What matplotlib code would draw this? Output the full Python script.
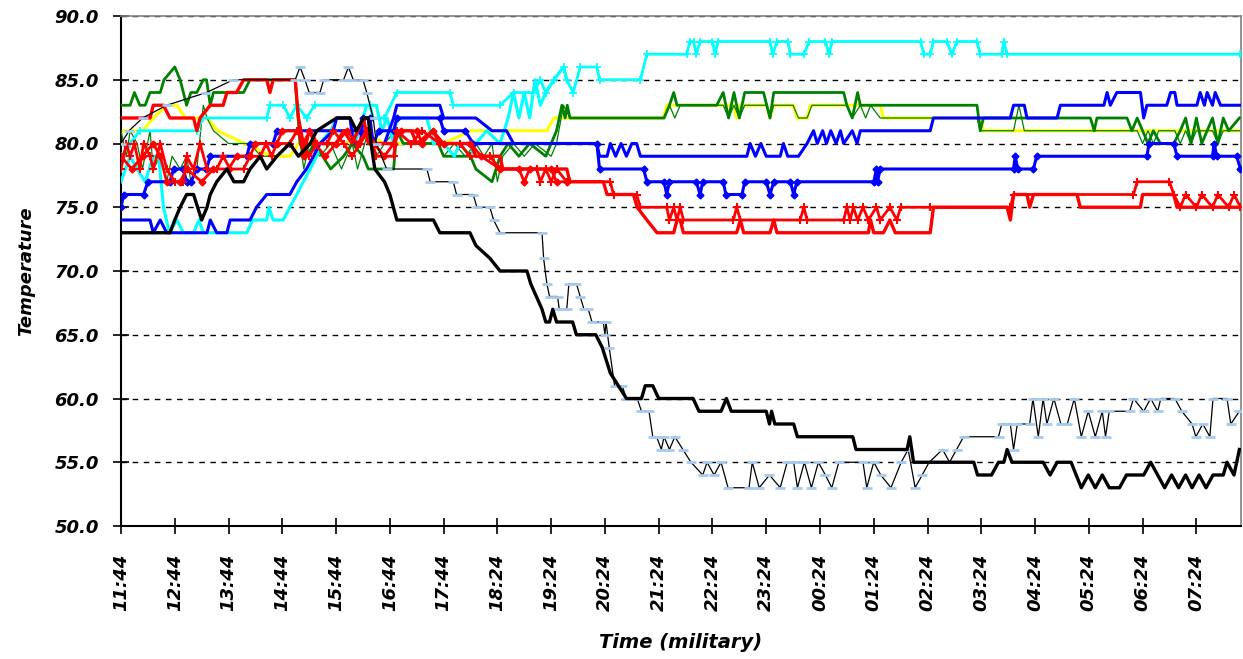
import matplotlib
matplotlib.use("Agg")
import matplotlib.pyplot as plt

# x positions are in tick units (one unit per labelled tick on the category axis)
tick_labels = ["11:44", "12:44", "13:44", "14:44", "15:44", "16:44", "17:44",
               "18:24", "19:24", "20:24", "21:24", "22:24", "23:24", "00:24",
               "01:24", "02:24", "03:24", "04:24", "05:24", "06:24", "07:24"]

black_t = [0, 0.91, 1.0, 1.1, 1.22, 1.35, 1.5, 1.6, 1.66, 1.78, 1.97, 2.1, 2.28, 2.4, 2.59, 2.71,
           2.9, 3.14, 3.3, 3.52, 3.64, 4.01, 4.26, 4.38, 4.51, 4.6, 4.65, 4.72, 4.9, 5.0, 5.13,
           5.81, 5.93, 6.49, 6.6, 6.86, 7.05, 7.55, 7.62, 7.83, 7.9, 7.97, 8.03, 8.1, 8.4, 8.47,
           8.83, 8.95, 9.1, 9.25, 9.4, 9.68, 9.75, 9.89, 10.0, 10.64, 10.75, 11.16, 11.26, 11.35,
           12.0, 12.06, 12.1, 12.16, 12.51, 12.58, 13.61, 13.67, 14.62, 14.67, 14.74, 15.86,
           15.93, 16.19, 16.32, 16.42, 16.48, 16.57, 17.15, 17.28, 17.41, 17.67, 17.86, 17.99,
           18.12, 18.25, 18.38, 18.57, 18.7, 19.02, 19.15, 19.28, 19.41, 19.54, 19.67, 19.8,
           19.92, 20.05, 20.18, 20.31, 20.5, 20.57, 20.7, 20.8]
black_v = [73, 73, 74, 75, 76, 76, 74, 75, 76, 77, 78, 77, 77, 78, 79, 78,
           79, 80, 79, 80, 81, 82, 82, 81, 82, 82, 80, 78, 77, 76, 74,
           74, 73, 73, 72, 71, 70, 70, 69, 67, 66, 66, 67, 66, 66, 65,
           65, 64, 62, 61, 60, 60, 61, 61, 60, 60, 59, 59, 60, 59,
           59, 58, 59, 58, 58, 57, 57, 56, 56, 57, 55, 55,
           54, 54, 55, 55, 56, 55, 55, 54, 55, 55, 53, 54,
           53, 54, 53, 53, 54, 54, 55, 54, 53, 54, 53, 54,
           53, 54, 53, 54, 54, 55, 54, 56]

grey_t = [0, 0.15, 0.4, 0.85, 1.59, 2.09, 3.24, 3.33, 3.42, 3.5, 3.7, 3.77, 4.14, 4.23, 4.32,
          4.5, 4.57, 4.69, 4.75, 4.94, 5.69, 5.75, 6.18, 6.24, 6.55, 6.62, 6.86, 6.93, 7.05,
          7.83, 7.86, 7.92, 7.97, 8.12, 8.15, 8.29, 8.33, 8.47, 8.54, 8.61, 8.69, 8.76, 8.97,
          9.0, 9.02, 9.08, 9.18, 9.32, 9.4, 9.6, 9.68, 9.82, 9.89, 9.96, 10.05, 10.1, 10.2,
          10.3, 10.45, 10.6, 10.82, 10.9, 11.03, 11.16, 11.29, 11.68, 11.74, 11.87, 12.06,
          12.26, 12.39, 12.51, 12.58, 12.71, 12.84, 12.97, 13.1, 13.22, 13.35, 13.8, 13.87,
          14.0, 14.13, 14.32, 14.51, 14.64, 14.77, 14.9, 15.03, 15.28, 15.41, 15.54, 15.67,
          16.32, 16.38, 16.54, 16.6, 16.67, 16.9, 16.96, 17.06, 17.15, 17.22, 17.35, 17.48,
          17.6, 17.73, 17.86, 17.99, 18.12, 18.25, 18.31, 18.38, 18.76, 18.83, 19.02, 19.15,
          19.28, 19.34, 19.6, 19.73, 19.92, 19.99, 20.12, 20.25, 20.31, 20.57, 20.64, 20.8]
grey_v = [80, 81, 82, 83, 84, 85, 85, 86, 85, 84, 84, 85, 85, 86, 85,
          85, 84, 82, 80, 78, 78, 77, 77, 76, 76, 75, 75, 74, 73,
          73, 71, 69, 68, 68, 67, 67, 69, 69, 68, 67, 67, 66, 66,
          65, 66, 64, 61, 61, 60, 60, 59, 59, 57, 57, 56, 57, 56,
          57, 56, 55, 54, 55, 54, 55, 53, 53, 55, 53, 54,
          53, 55, 55, 53, 55, 53, 55, 54, 53, 55, 55, 53,
          55, 54, 53, 55, 56, 53, 54, 55, 56, 55, 56, 57,
          57, 58, 58, 56, 58, 58, 60, 57, 60, 58, 60, 58,
          58, 60, 57, 59, 57, 59, 57, 59, 59, 60, 59, 60,
          59, 60, 60, 59, 58, 57, 58, 57, 60, 60, 58, 59]

cyan_plus_t = [0, 0.17, 0.35, 1.41, 1.53, 2.71, 2.77, 3.02, 3.14, 3.27, 3.45, 3.6, 4.63, 4.69,
               4.9, 5.13, 6.12, 6.18, 7.05, 7.3, 7.67, 7.8, 7.9, 8.05, 8.23, 8.29, 8.41, 8.54,
               8.85, 8.9, 9.66, 9.78, 10.52, 10.58, 10.65, 10.7, 10.77, 11.0, 11.05, 11.1,
               12.07, 12.12, 12.2, 12.4, 12.45, 12.7, 12.8, 13.1, 13.17, 13.22, 14.87, 14.93,
               15.05, 15.11, 15.36, 15.45, 15.55, 15.92, 15.98, 16.38, 16.42, 16.48, 20.82]
cyan_plus_v = [79, 80, 81, 81, 82, 82, 83, 83, 82, 83, 82, 83, 83, 82,
               82, 84, 84, 83, 83, 84, 84, 85, 84, 85, 86, 85, 84, 86,
               86, 85, 85, 87, 87, 88, 88, 87, 88, 88, 87, 88,
               88, 87, 88, 88, 87, 87, 88, 88, 87, 88, 88, 87,
               87, 88, 88, 87, 88, 88, 87, 87, 88, 87, 87]

cyan_t = [0, 0.17, 0.3, 0.45, 0.6, 0.7, 0.79, 0.9, 1.04, 1.16, 1.35, 1.45, 1.53, 2.34, 2.45,
          2.71, 2.75, 2.83, 3.02, 3.14, 3.27, 3.39, 3.52, 3.64, 3.7, 3.9, 4.01, 4.26, 4.35,
          4.5, 4.57, 4.75, 4.85, 4.95, 5.07, 5.13, 5.69, 5.81, 6.0, 6.2, 6.3, 6.49, 6.6, 6.8,
          7.05, 7.2, 7.3, 7.4, 7.5, 7.6, 7.7, 7.8, 7.9, 8.05, 8.23, 8.29]
cyan_v = [77, 79, 78, 77, 79, 79, 75, 73, 74, 73, 73, 74, 73, 73, 74,
          74, 75, 74, 74, 75, 76, 77, 78, 79, 80, 81, 82, 82, 80,
          82, 83, 83, 81, 82, 80, 82, 82, 80, 80, 79, 80, 79, 80, 81,
          80, 82, 84, 82, 84, 82, 85, 83, 84, 85, 86, 85]

green_t = [0, 0.17, 0.25, 0.35, 0.45, 0.54, 0.73, 0.8, 1.0, 1.1, 1.22, 1.3, 1.41, 1.53, 1.59,
           1.66, 1.72, 2.28, 2.4, 2.6, 3.24, 3.33, 3.45, 3.6, 3.9, 4.14, 4.3, 4.5, 4.6, 5.07,
           5.13, 5.25, 5.9, 6.0, 6.5, 6.6, 6.9, 7.05, 7.2, 7.4, 7.6, 7.9, 8.1, 8.2, 8.26, 8.3,
           8.35, 10.1, 10.2, 10.28, 10.34, 11.08, 11.2, 11.3, 11.4, 11.5, 11.6, 11.95, 12.01,
           12.07, 12.14, 13.44, 13.5, 13.6, 13.7, 13.75, 14.12, 15.92, 15.98, 16.04, 18.03,
           18.1, 18.15, 18.71, 18.8, 18.9, 19.0, 19.1, 19.2, 19.33, 19.58, 19.7, 19.8, 19.9,
           20.0, 20.1, 20.3, 20.4, 20.5, 20.6, 20.8]
green_v = [83, 83, 84, 83, 83, 84, 84, 85, 86, 85, 83, 84, 84, 85, 85,
           83, 84, 84, 85, 85, 85, 80, 79, 80, 78, 79, 80, 79, 78, 78,
           81, 80, 80, 79, 79, 78, 77, 79, 80, 79, 80, 79, 81, 83, 82, 83,
           82, 82, 83, 84, 83, 83, 84, 82, 84, 82, 84, 84, 83,
           82, 84, 84, 83, 82, 84, 83, 83, 83, 81, 82, 82,
           81, 82, 82, 81, 82, 81, 80, 81, 80, 80, 81, 82, 80,
           82, 80, 82, 80, 82, 81, 82]

green_thin_t = [0, 0.1, 0.17, 0.3, 0.4, 0.54, 0.6, 0.73, 0.85, 0.95, 1.1, 1.22, 1.3, 1.41, 1.53,
                1.6, 1.72, 2.0, 2.4, 2.6, 2.9, 3.1, 3.3, 3.4, 3.5, 3.7, 3.9, 4.1, 4.3, 4.4, 4.6,
                4.75, 4.9, 5.1, 5.4, 5.9, 6.0, 6.2, 6.4, 6.6, 6.75, 6.9, 7.0, 7.1, 7.3, 7.5, 7.7,
                8.0, 8.1, 8.23, 8.35, 10.1, 10.2, 10.3, 10.4, 11.2, 11.3, 11.4, 11.5, 11.6, 12.0,
                12.07, 12.14, 12.5, 12.6, 12.76, 12.85, 13.5, 13.6, 13.75, 13.85, 13.94, 14.12,
                15.92, 15.98, 16.6, 16.7, 16.8, 18.9, 19.0, 19.1, 19.2, 19.3, 19.6, 19.7, 19.8,
                19.9, 20.0, 20.3, 20.4, 20.5, 20.8]
green_thin_v = [81, 79, 81, 80, 78, 81, 78, 79, 77, 79, 78, 79, 77, 78, 83,
                82, 81, 80, 80, 79, 79, 80, 81, 78, 80, 79, 80, 78, 80, 78, 81,
                79, 80, 81, 80, 80, 79, 80, 79, 80, 79, 80, 77, 79, 80, 79, 80,
                79, 80, 83, 82, 82, 83, 82, 83, 83, 82, 83, 82, 83, 83,
                82, 83, 83, 82, 82, 83, 83, 82, 83, 82, 83, 82,
                82, 81, 81, 83, 81, 81, 80, 81, 80, 81, 81, 80, 81,
                80, 81, 81, 80, 81, 81]

yellow_t = [0, 0.4, 0.6, 0.85, 1.04, 1.2, 1.6, 1.8, 2.3, 2.8, 3.14, 3.3, 4.2, 4.4, 4.9, 6.0,
            6.5, 7.92, 8.05, 10.09, 10.15, 11.39, 11.45, 11.52, 12.01, 12.07, 12.14, 12.51,
            12.57, 12.76, 12.82, 14.12, 14.18, 15.98, 16.04, 20.82]
yellow_v = [81, 81, 82, 83, 83, 82, 82, 81, 80, 79, 79, 80, 80, 81, 80, 80,
            81, 81, 82, 82, 83, 83, 82, 83, 83, 82, 83, 83,
            82, 82, 83, 83, 82, 82, 81, 81]

blue_t = [0, 0.54, 0.6, 0.73, 0.85, 1.6, 1.66, 1.78, 1.97, 2.03, 2.4, 2.52, 2.71, 3.14, 3.27,
          3.45, 3.58, 3.7, 3.95, 4.01, 4.26, 4.32, 4.45, 4.51, 4.6, 4.69, 4.9, 5.07, 5.13, 5.93,
          6.0, 6.6, 6.9, 7.17, 7.3, 8.85, 8.9, 9.04, 9.1, 9.2, 9.3, 9.4, 9.5, 9.59, 9.66,
          11.64, 11.7, 11.8, 11.9, 12.0, 12.26, 12.32, 12.4, 12.6, 12.76, 12.88, 12.95, 13.05,
          13.12, 13.2, 13.3, 13.38, 13.44, 13.6, 13.69, 13.75, 15.05, 15.11, 16.54, 16.6, 16.8,
          16.85, 17.41, 17.47, 18.28, 18.34, 18.4, 18.52, 18.96, 19.02, 19.08, 19.45, 19.52,
          19.6, 19.64, 20.01, 20.07, 20.15, 20.2, 20.3, 20.35, 20.45, 20.82]
blue_v = [74, 74, 73, 74, 73, 73, 74, 73, 73, 74, 74, 75, 76, 76, 77,
          78, 79, 80, 81, 82, 82, 80, 80, 82, 82, 80, 80, 82, 83, 83,
          82, 82, 81, 81, 80, 80, 79, 79, 80, 79, 80, 79, 80, 80, 79,
          79, 80, 79, 80, 79, 79, 80, 79, 79, 80, 81, 80, 81,
          80, 81, 80, 81, 80, 81, 80, 81, 81, 82, 82, 83, 83,
          82, 82, 83, 83, 84, 83, 84, 84, 82, 83, 83, 84,
          84, 83, 83, 84, 83, 84, 83, 84, 83, 83]

blue_dia_t = [0, 0.05, 0.42, 0.5, 0.91, 0.98, 1.16, 1.22, 1.3, 1.41, 1.59, 1.66, 2.34, 2.4, 2.83,
              2.9, 4.45, 4.51, 4.63, 4.69, 4.8, 5.07, 5.13, 5.93, 6.0, 6.4, 6.55, 8.85, 8.9,
              9.72, 9.78, 10.1, 10.15, 10.2, 10.7, 10.77, 10.82, 11.2, 11.25, 11.55, 11.6, 12.0,
              12.07, 12.14, 12.45, 12.51, 12.57, 14.0, 14.05, 14.07, 14.12, 16.6, 16.63, 16.68,
              16.97, 17.03, 19.08, 19.12, 19.58, 19.64, 20.3, 20.33, 20.38, 20.75, 20.82]
blue_dia_v = [75, 76, 76, 77, 77, 78, 78, 77, 77, 78, 78, 79, 79, 80, 80,
              81, 81, 82, 82, 80, 81, 81, 82, 82, 81, 81, 80, 80, 78,
              78, 77, 77, 76, 77, 77, 76, 77, 77, 76, 76, 77, 77,
              76, 77, 77, 76, 77, 77, 78, 77, 78, 78, 79, 78,
              78, 79, 79, 80, 80, 79, 79, 80, 79, 79, 78]

red_t = [0, 0.54, 0.6, 0.79, 0.91, 1.35, 1.41, 1.47, 1.66, 1.9, 1.97, 2.15, 2.28, 2.71, 2.77,
         2.83, 3.24, 3.3, 3.39, 3.52, 3.64, 4.0, 4.14, 4.3, 4.51, 4.6, 5.07, 5.13, 5.4, 5.5,
         5.8, 5.93, 6.5, 6.6, 7.05, 7.1, 8.29, 8.35, 8.97, 9.04, 9.53, 9.6, 9.78, 9.97, 10.28,
         10.34, 10.4, 10.46, 11.45, 11.52, 11.58, 12.07, 12.14, 12.2, 13.9, 13.94, 14.0, 14.18,
         14.3, 14.4, 15.05, 15.11, 16.48, 16.54, 16.6, 16.85, 16.9, 16.97, 17.78, 17.84, 18.96,
         19.0, 19.58, 19.64, 20.82]
red_v = [82, 82, 83, 83, 82, 82, 81, 82, 83, 83, 84, 84, 85, 85, 84,
         85, 85, 82, 80, 81, 80, 80, 81, 80, 82, 80, 80, 81, 81, 80,
         81, 80, 80, 79, 79, 78, 78, 77, 77, 76, 76, 75, 74, 73, 73,
         74, 74, 73, 73, 74, 73, 73, 74, 73, 73, 74, 73, 73,
         74, 73, 73, 75, 75, 74, 76, 76, 75, 76, 76, 75, 75,
         76, 76, 75, 75]

red_plus_t = [0, 0.1, 0.17, 0.25, 0.35, 0.42, 0.54, 0.6, 0.73, 0.85, 1.0, 1.16, 1.22, 1.35, 1.47,
              1.6, 1.78, 1.9, 2.03, 2.28, 2.4, 2.59, 2.7, 2.8, 2.9, 3.14, 3.27, 3.39, 3.5, 3.64,
              3.83, 3.95, 4.14, 4.3, 4.45, 4.6, 4.75, 5.07, 5.13, 5.4, 5.6, 5.93, 6.3, 6.49,
              6.86, 7.05, 7.73, 7.8, 7.9, 8.0, 8.1, 8.29, 9.1, 9.16, 9.59, 9.66, 10.15, 10.2,
              10.28, 10.34, 10.4, 10.46, 11.39, 11.45, 11.52, 12.63, 12.7, 12.76, 13.44, 13.5,
              13.56, 13.62, 13.7, 13.8, 13.9, 14.05, 14.12, 14.3, 14.43, 14.5, 15.05, 16.54,
              16.6, 18.83, 18.9, 19.5, 19.58, 19.7, 19.8, 20.0, 20.1, 20.3, 20.4, 20.6, 20.7, 20.82]
red_plus_v = [78, 80, 79, 80, 78, 80, 79, 78, 80, 78, 77, 77, 79, 78, 80,
              78, 78, 79, 78, 78, 79, 79, 80, 79, 80, 80, 81, 80, 79, 80,
              80, 81, 80, 79, 80, 81, 79, 79, 81, 80, 81, 80, 80, 79,
              79, 78, 78, 77, 78, 77, 78, 77, 77, 76, 76, 75, 75, 74,
              75, 74, 75, 74, 74, 75, 74, 74, 75, 74, 74, 75,
              74, 75, 74, 75, 74, 75, 74, 75, 74, 75, 75, 75,
              76, 76, 77, 77, 76, 75, 76, 75, 76, 75, 76, 75, 76, 75]

red_dia_t = [0, 0.2, 0.4, 0.6, 0.73, 0.85, 1.1, 1.22, 1.5, 1.72, 2.0, 2.15, 2.4, 2.5, 2.9, 3.0,
             3.3, 3.4, 3.5, 3.6, 3.8, 4.0, 4.2, 4.4, 4.57, 4.7, 4.9, 5.07, 5.2, 5.5, 5.6, 5.8,
             6.0, 6.5, 6.7, 7.05, 7.4, 7.5, 7.6, 8.0, 8.1, 8.3]
red_dia_v = [79, 78, 79, 80, 79, 77, 77, 78, 77, 78, 78, 79, 79, 80, 80, 81,
             81, 79, 81, 80, 79, 80, 81, 80, 81, 80, 79, 80, 81, 81, 80, 81,
             80, 80, 79, 78, 78, 77, 78, 78, 77, 77]


W, H = 1243, 659
fig = plt.figure(figsize=(W / 100, H / 100), dpi=100)
ax = fig.add_axes([121 / W, 1 - 526 / H, 1120 / W, 510 / H])

lbl_font = dict(family="DejaVu Sans", weight="bold", style="italic")

ax.plot(yellow_t, yellow_v, color="#FFFF00", lw=2.2, zorder=2)
ax.plot(green_thin_t, green_thin_v, color="#008000", lw=0.9, zorder=3)
ax.plot(green_t, green_v, color="#008000", lw=2.0, zorder=3)
ax.plot(cyan_t, cyan_v, color="#00FFFF", lw=2.2, zorder=3)
ax.plot(cyan_plus_t, cyan_plus_v, color="#00FFFF", lw=2.0, marker="+", ms=6, mew=1.2, zorder=3)
ax.plot(blue_t, blue_v, color="#0000FF", lw=2.2, zorder=4)
ax.plot(blue_dia_t, blue_dia_v, color="#0000FF", lw=2.2, marker="D", ms=3.5, zorder=4)
ax.plot(red_dia_t, red_dia_v, color="#FF0000", lw=2.0, marker="D", ms=3.5, zorder=4)
ax.plot(red_plus_t, red_plus_v, color="#FF0000", lw=2.0, marker="+", ms=6, mew=1.5, zorder=4)
ax.plot(red_t, red_v, color="#FF0000", lw=2.4, zorder=4)
ax.plot(grey_t, grey_v, color="black", lw=0.9, marker="_", ms=7, mew=2,
        mec="#A6CAF0", zorder=5)
ax.plot(black_t, black_v, color="black", lw=2.4, zorder=5)

ax.set_xlim(0, 20.83)
ax.set_ylim(50, 90)
ax.set_xticks(range(len(tick_labels)))
ax.set_xticklabels(tick_labels, rotation=90, fontsize=13, **lbl_font)
ax.set_yticks(range(50, 91, 5))
ax.set_yticklabels([f"{v:.1f}" for v in range(50, 91, 5)], fontsize=13, **lbl_font)

ax.yaxis.grid(True, color="black", linestyle=(0, (4, 4)), lw=1)
ax.set_axisbelow(True)
ax.tick_params(axis="both", direction="inout", length=12, width=1.2, color="black")
ax.tick_params(axis="y", pad=10)
ax.tick_params(axis="x", pad=14)

for s in ("left", "bottom"):
    ax.spines[s].set_color("black")
    ax.spines[s].set_linewidth(1.5)
for s in ("top", "right"):
    ax.spines[s].set_color("#808080")
    ax.spines[s].set_linewidth(1.2)

ax.set_ylabel("Temperature", fontsize=13, labelpad=14, **lbl_font)
ax.set_xlabel("Time (military)", fontsize=14, labelpad=16, **lbl_font)

fig.savefig("out.png", dpi=100)
